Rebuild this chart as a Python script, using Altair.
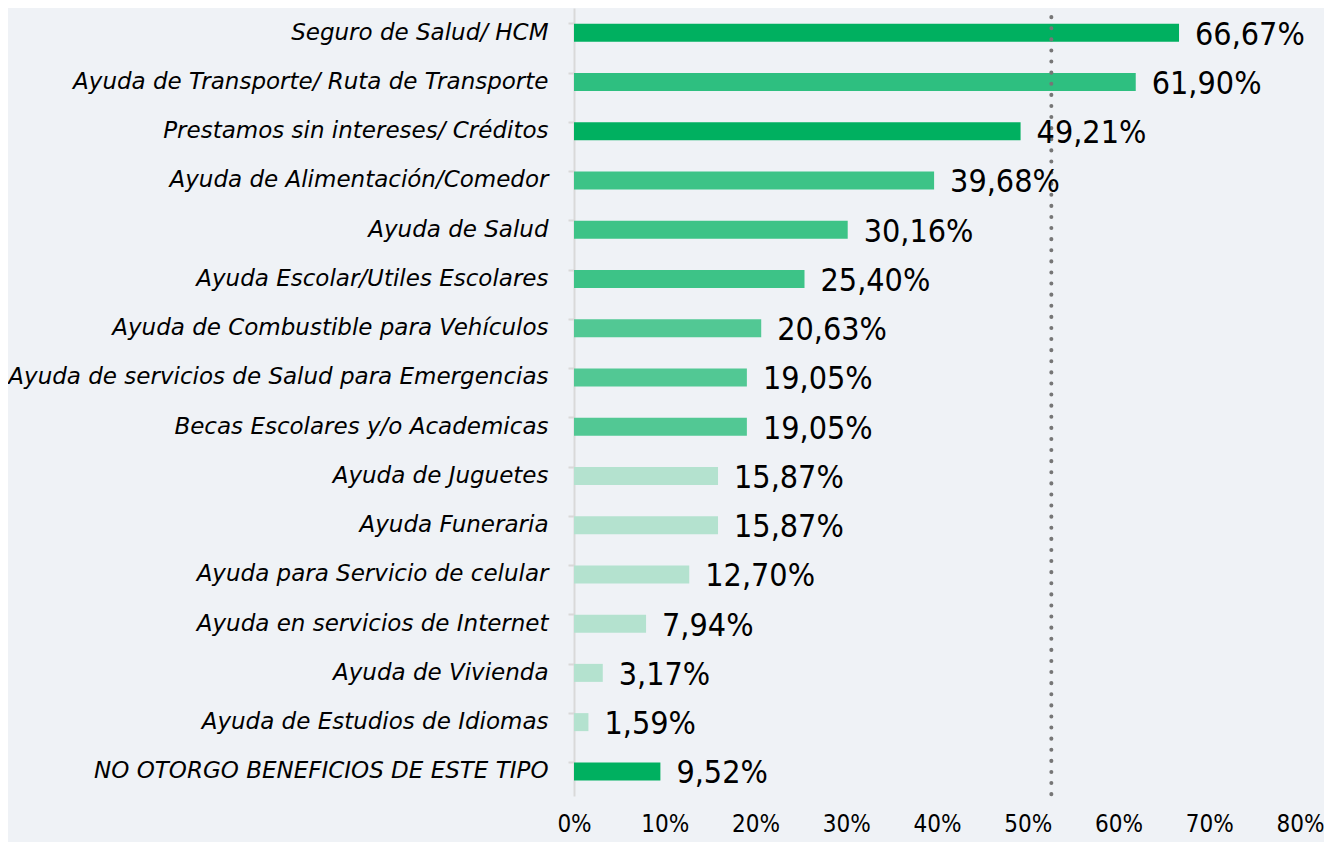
import altair as alt
import pandas as pd

categories = [
    "Seguro de Salud/ HCM",
    "Ayuda de Transporte/ Ruta de Transporte",
    "Prestamos sin intereses/ Créditos",
    "Ayuda de Alimentación/Comedor",
    "Ayuda de Salud",
    "Ayuda Escolar/Utiles Escolares",
    "Ayuda de Combustible para Vehículos",
    "Ayuda de servicios de Salud para Emergencias",
    "Becas Escolares y/o Academicas",
    "Ayuda de Juguetes",
    "Ayuda Funeraria",
    "Ayuda para Servicio de celular",
    "Ayuda en servicios de Internet",
    "Ayuda de Vivienda",
    "Ayuda de Estudios de Idiomas",
    "NO OTORGO BENEFICIOS DE ESTE TIPO",
]
values = [66.67, 61.90, 49.21, 39.68, 30.16, 25.40, 20.63, 19.05, 19.05,
          15.87, 15.87, 12.70, 7.94, 3.17, 1.59, 9.52]
colors = ["#00B060", "#2EBF80", "#00B060", "#3DC387", "#3DC387", "#3DC387",
          "#52C894", "#52C894", "#52C894", "#B4E2CF", "#B4E2CF", "#B4E2CF",
          "#B4E2CF", "#B4E2CF", "#B4E2CF", "#00B060"]
reference_value = [52.6]
x_ticks = [0, 10, 20, 30, 40, 50, 60, 70, 80]

df = pd.DataFrame({
    "cat": categories,
    "val": [v / 100 for v in values],
    "color": colors,
    "label": [f"{v:.2f}".replace(".", ",") + "%" for v in values],
})
ref = pd.DataFrame({"ref": [r / 100 for r in reference_value]})

LABEL_FONT = "DejaVu Sans"
NUM_FONT = "DejaVu Sans Condensed, DejaVu Sans"
W, H = 726, 788

x_scale = alt.Scale(domain=[0, 0.8], nice=False)
y_enc = alt.Y("cat:N", sort=categories, title=None,
              scale=alt.Scale(paddingInner=0.64, paddingOuter=0.32),
              axis=alt.Axis(labelFont=LABEL_FONT, labelFontStyle="italic", labelFontSize=23,
                            labelColor="#000000", labelPadding=20, labelLimit=600,
                            tickSize=6, tickColor="#D9D9D9", tickWidth=2,
                            domainColor="#D9D9D9", domainWidth=2, bandPosition=0))

bars = alt.Chart(df).mark_bar(size=18).encode(
    x=alt.X("val:Q", scale=x_scale, title=None,
            axis=alt.Axis(format=".0%", values=[t / 100 for t in x_ticks],
                          labelFont=NUM_FONT, labelFontSize=24, labelColor="#000000",
                          labelPadding=16, labelFlush=False, labelOverlap=False,
                          domain=False, ticks=False, grid=False)),
    y=y_enc,
    color=alt.Color("color:N", scale=None),
)

text = alt.Chart(df).mark_text(align="left", baseline="middle", dx=16, dy=2,
                               font=NUM_FONT, fontSize=32, color="#000000").encode(
    x=alt.X("val:Q", scale=x_scale),
    y=alt.Y("cat:N", sort=categories),
    text="label:N",
)

rule = alt.Chart(ref).mark_rule(color="#767676", strokeWidth=4, strokeDash=[0.1, 11],
                                strokeCap="round").encode(
    x=alt.X("ref:Q", scale=x_scale),
    y=alt.value(-2),
    y2=alt.value(H + 4),
)

chart = alt.layer(bars, rule, text).properties(
    width=W, height=H,
    autosize=alt.AutoSizeParams(type="none"),
    padding={"left": 566, "top": 0, "right": 24, "bottom": 46},
).configure(background="#EFF2F6").configure_view(stroke=None)

chart.save("out.html", embed_options={"renderer": "svg", "actions": False})
